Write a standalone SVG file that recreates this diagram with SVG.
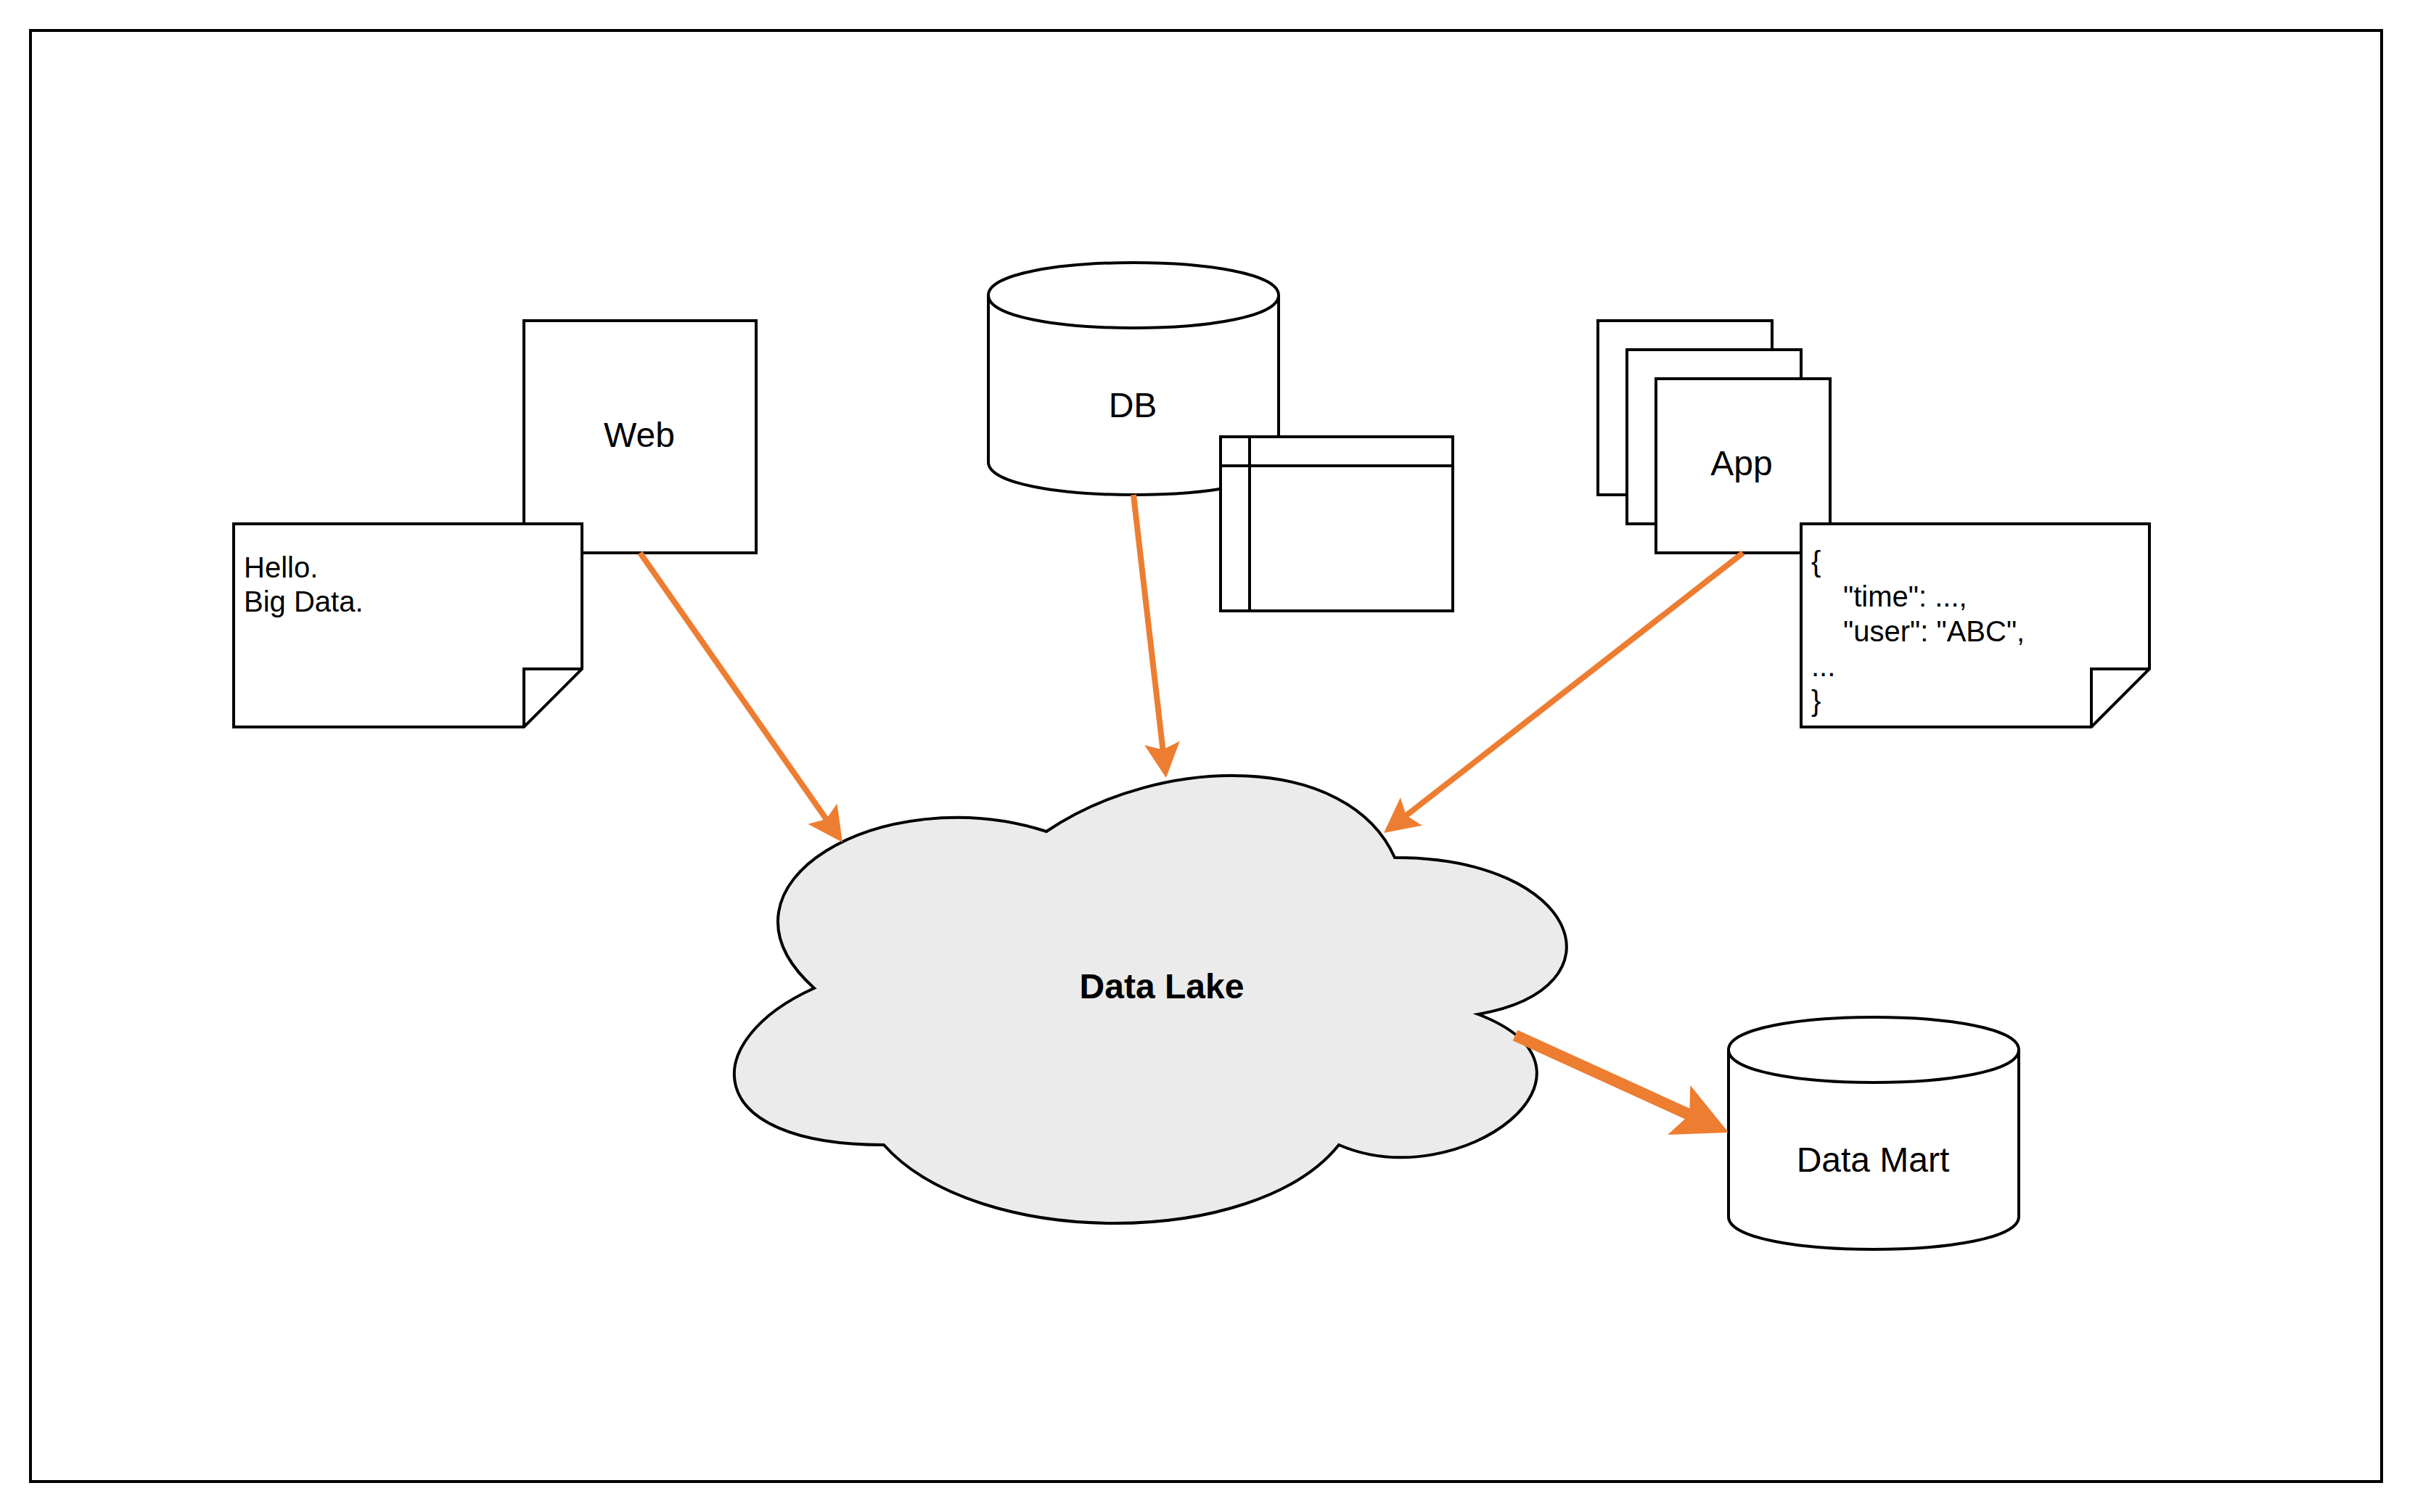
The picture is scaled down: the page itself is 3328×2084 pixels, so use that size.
<svg xmlns="http://www.w3.org/2000/svg" width="3328" height="2084" viewBox="0 0 3328 2084">
<style>
.s{fill:#fff;stroke:#000;stroke-width:4}
.n{fill:none;stroke:#000;stroke-width:4}
.t{font-family:"Liberation Sans",Arial,Helvetica,sans-serif;font-size:48px;fill:#000}
.m{text-anchor:middle}
.b{font-weight:bold}
.f{font-size:40px}
.c{fill:none;stroke:#ed7d31;stroke-width:8}
</style>
<defs>
<marker id="head" markerUnits="userSpaceOnUse" markerWidth="60" markerHeight="60" viewBox="-15 -30 60 60" refX="0" refY="0" orient="auto"><path d="M38 0L-10 -24.5L-1 0L-10 24.5Z" fill="#ed7d31"/></marker>
<marker id="headL" markerUnits="userSpaceOnUse" markerWidth="100" markerHeight="100" viewBox="-25 -50 100 100" refX="0" refY="0" orient="auto"><path d="M58 0L-17 -37.5L-1 0L-17 37.5Z" fill="#ed7d31"/></marker>
</defs>
<rect id="frame" class="s" x="42" y="42" width="3240" height="2000"/>
<g id="web"><rect class="s" x="722" y="442" width="320" height="320"/><text class="t m" x="881" y="616">Web</text></g>
<g id="web-note"><path class="s" d="M322 722H802V922L722 1002H322Z"/><path class="n" d="M722 1002V922H802"/><text class="t f" x="336" y="796">Hello.</text><text class="t f" x="336" y="843">Big Data.</text></g>
<g id="db"><path class="s" d="M1362 407C1362 347 1762 347 1762 407V637C1762 697 1362 697 1362 637Z"/><path class="n" d="M1362 407C1362 467 1762 467 1762 407"/><text class="t m" x="1561" y="575">DB</text></g>
<g id="db-table"><rect class="s" x="1682" y="602" width="320" height="240"/><path class="n" d="M1722 602V842M1682 642H2002"/></g>
<g id="app"><rect class="s" x="2202" y="442" width="240" height="240"/><rect class="s" x="2242" y="482" width="240" height="240"/><rect class="s" x="2282" y="522" width="240" height="240"/><text class="t m" x="2400" y="655">App</text></g>
<g id="app-note"><path class="s" d="M2482 722H2962V922L2882 1002H2482Z"/><path class="n" d="M2882 1002V922H2962"/><text class="t f" x="2496" y="788">{</text><text class="t f" x="2540" y="836">"time": ...,</text><text class="t f" x="2540" y="884">"user": "ABC",</text><text class="t f" x="2496" y="932">...</text><text class="t f" x="2496" y="980">}</text></g>
<g id="data-lake"><path d="M1922 1182C2178 1182 2242 1362 2037 1398C2242 1477 2012 1650 1845 1578C1730 1722 1346 1722 1218 1578C962 1578 962 1434 1122 1362C962 1218 1218 1074 1442 1146C1602 1038 1858 1038 1922 1182Z" fill="#ebebeb" stroke="#000" stroke-width="4"/><text class="t m b" x="1601" y="1376">Data Lake</text></g>
<g id="data-mart"><path class="s" d="M2382 1447C2382 1387 2782 1387 2782 1447V1677C2782 1737 2382 1737 2382 1677Z"/><path class="n" d="M2382 1447C2382 1507 2782 1507 2782 1447"/><text class="t m" x="2581" y="1615">Data Mart</text></g>
<g id="connectors">
<line class="c" x1="882" y1="762" x2="1139.2" y2="1129.8" marker-end="url(#head)"/>
<line class="c" x1="1562" y1="682" x2="1602.6" y2="1034.2" marker-end="url(#head)"/>
<line class="c" x1="2402" y1="762" x2="1937" y2="1124.6" marker-end="url(#head)"/>
<line class="c" style="stroke-width:16" x1="2088" y1="1427" x2="2329.2" y2="1536.9" marker-end="url(#headL)"/>
</g>
</svg>
